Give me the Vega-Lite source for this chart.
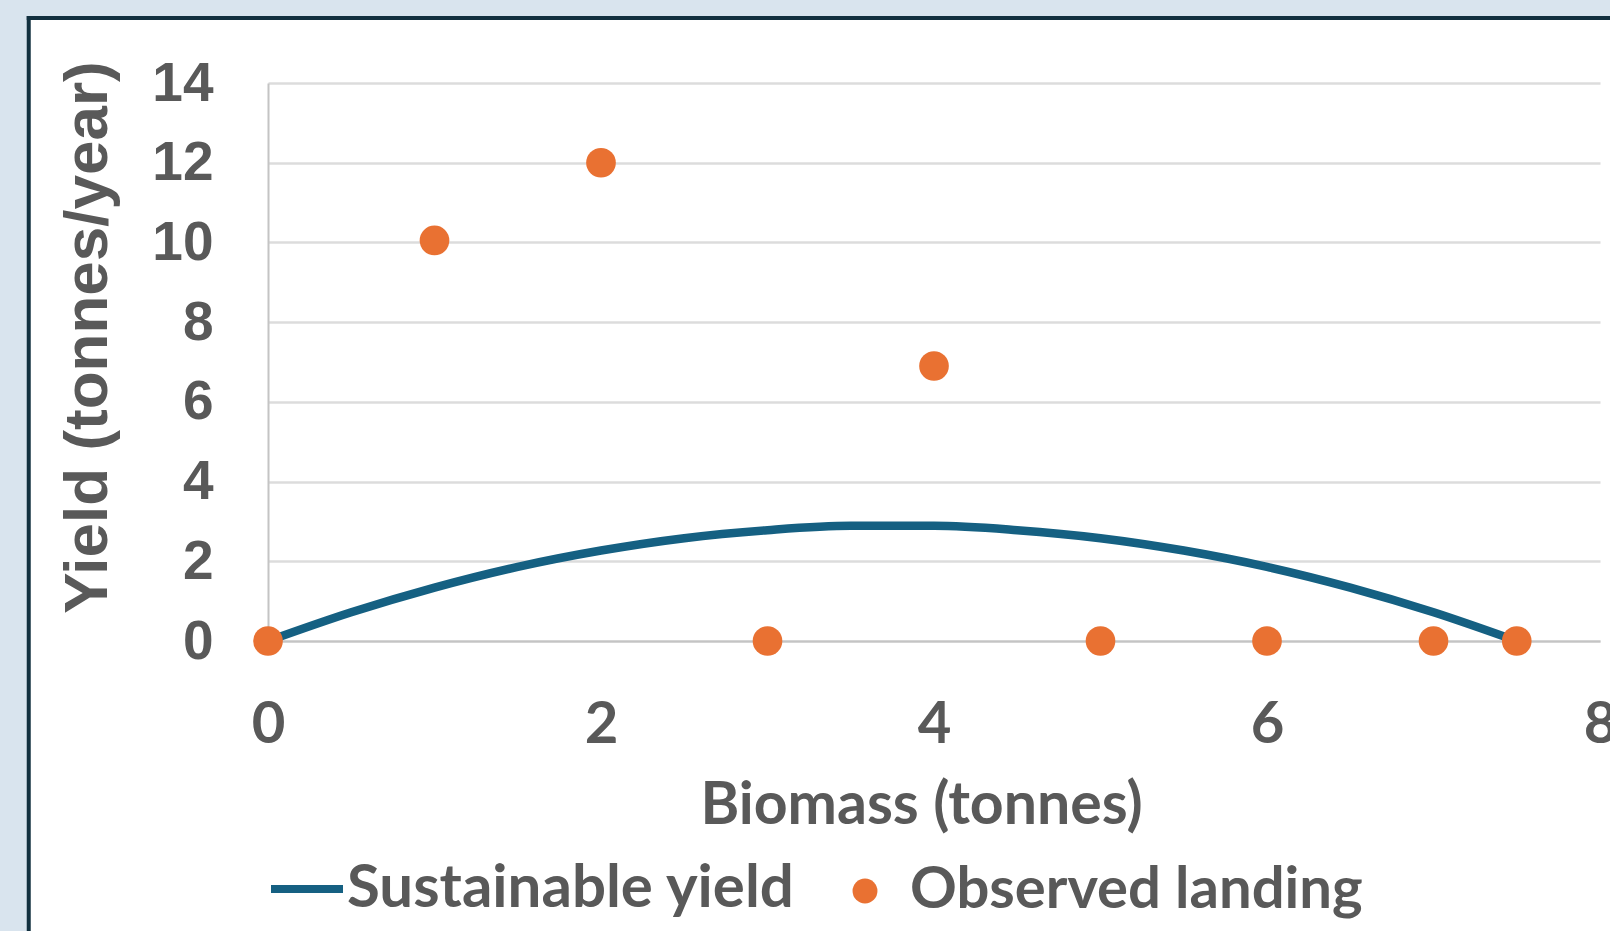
{
  "$schema": "https://vega.github.io/schema/vega-lite/v6.json",
  "width": 1332,
  "height": 558,
  "autosize": {"type": "none"},
  "padding": {"left": 268, "top": 83, "right": 10, "bottom": 290},
  "background": "#ffffff",
  "view": {"stroke": null},
  "datasets": {
    "yieldcurve": [
      {"biomass": 0, "yield": 0, "series": "Sustainable yield"},
      {"biomass": 0.5, "yield": 0.72, "series": "Sustainable yield"},
      {"biomass": 1, "yield": 1.34, "series": "Sustainable yield"},
      {"biomass": 1.5, "yield": 1.86, "series": "Sustainable yield"},
      {"biomass": 2, "yield": 2.27, "series": "Sustainable yield"},
      {"biomass": 2.5, "yield": 2.58, "series": "Sustainable yield"},
      {"biomass": 3, "yield": 2.78, "series": "Sustainable yield"},
      {"biomass": 3.5, "yield": 2.89, "series": "Sustainable yield"},
      {"biomass": 4, "yield": 2.89, "series": "Sustainable yield"},
      {"biomass": 4.5, "yield": 2.78, "series": "Sustainable yield"},
      {"biomass": 5, "yield": 2.58, "series": "Sustainable yield"},
      {"biomass": 5.5, "yield": 2.27, "series": "Sustainable yield"},
      {"biomass": 6, "yield": 1.86, "series": "Sustainable yield"},
      {"biomass": 6.5, "yield": 1.34, "series": "Sustainable yield"},
      {"biomass": 7, "yield": 0.72, "series": "Sustainable yield"},
      {"biomass": 7.5, "yield": 0, "series": "Sustainable yield"}
    ],
    "landing": [
      {"biomass": 0, "yield": 0, "series": "Observed landing"},
      {"biomass": 1, "yield": 10.05, "series": "Observed landing"},
      {"biomass": 2, "yield": 12, "series": "Observed landing"},
      {"biomass": 3, "yield": 0, "series": "Observed landing"},
      {"biomass": 4, "yield": 6.9, "series": "Observed landing"},
      {"biomass": 5, "yield": 0, "series": "Observed landing"},
      {"biomass": 6, "yield": 0, "series": "Observed landing"},
      {"biomass": 7, "yield": 0, "series": "Observed landing"},
      {"biomass": 7.5, "yield": 0, "series": "Observed landing"}
    ]
  },
  "config": {
    "axis": {
      "ticks": false,
      "tickSize": 0,
      "domainColor": "#c4c4c4",
      "domainWidth": 2,
      "gridColor": "#dcdcdc",
      "gridWidth": 2.5,
      "labelColor": "#595959",
      "titleColor": "#595959",
      "labelFontWeight": "bold",
      "titleFontWeight": "bold",
      "labelFlush": false,
      "labelOverlap": false
    },
    "legend": {
      "padding": 0,
      "labelFont": "Lato",
      "labelFontWeight": "bold",
      "labelFontSize": 60,
      "labelColor": "#595959",
      "labelLimit": 0
    }
  },
  "layer": [
    {
      "data": {"values": [{}]},
      "mark": {"type": "rect", "fill": "#d9e4ee", "stroke": null},
      "encoding": {
        "x": {"datum": -3, "type": "quantitative", "scale": {"domain": [0, 8], "nice": false}},
        "x2": {"datum": -1.437},
        "y": {"datum": 20, "type": "quantitative", "scale": {"domain": [0, 14], "nice": false}},
        "y2": {"datum": -10}
      }
    },
    {
      "data": {"values": [{}]},
      "mark": {"type": "rect", "fill": "#d9e4ee", "stroke": null},
      "encoding": {
        "x": {"datum": -3, "type": "quantitative"},
        "x2": {"datum": 10},
        "y": {"datum": 20, "type": "quantitative"},
        "y2": {"datum": 15.63}
      }
    },
    {
      "data": {"values": [{}]},
      "mark": {"type": "rule", "color": "#12303f", "strokeWidth": 4, "strokeCap": "square"},
      "encoding": {
        "x": {"datum": -1.437, "type": "quantitative"},
        "y": {"datum": 15.63, "type": "quantitative"},
        "y2": {"datum": -10}
      }
    },
    {
      "data": {"values": [{}]},
      "mark": {"type": "rule", "color": "#12303f", "strokeWidth": 4, "strokeCap": "square"},
      "encoding": {
        "x": {"datum": -1.437, "type": "quantitative"},
        "x2": {"datum": 10},
        "y": {"datum": 15.63, "type": "quantitative"}
      }
    },
    {
      "data": {"name": "yieldcurve"},
      "mark": {"type": "line", "strokeWidth": 8.5, "strokeCap": "round", "interpolate": "monotone"},
      "encoding": {
        "x": {
          "field": "biomass",
          "type": "quantitative",
          "scale": {"domain": [0, 8], "nice": false},
          "axis": {
            "title": "Biomass (tonnes)",
            "values": [0, 2, 4, 6, 8],
            "format": "d",
            "grid": false,
            "labelFont": "Lato",
            "labelFontSize": 58,
            "labelBaseline": "alphabetic",
            "labelPadding": 101,
            "titleFont": "Lato",
            "titleFontSize": 59,
            "titleBaseline": "alphabetic",
            "titleX": 653,
            "titleY": 182
          }
        },
        "y": {
          "field": "yield",
          "type": "quantitative",
          "scale": {"domain": [0, 14], "nice": false},
          "axis": {
            "title": "Yield (tonnes/year)",
            "values": [0, 2, 4, 6, 8, 10, 12, 14],
            "format": "d",
            "grid": true,
            "labelFont": "Liberation Sans",
            "labelFontSize": 55,
            "labelPadding": 55,
            "labelBaseline": "middle",
            "titleFont": "Liberation Sans",
            "titleFontSize": 62,
            "titleAngle": -90,
            "titleAlign": "center",
            "titleBaseline": "alphabetic",
            "titleX": -162,
            "titleY": 254
          }
        },
        "stroke": {
          "field": "series",
          "type": "nominal",
          "scale": {"domain": ["Sustainable yield"], "range": ["#156082"]},
          "legend": {
            "orient": "none",
            "title": null,
            "legendX": -1,
            "legendY": 766,
            "symbolType": "stroke",
            "symbolSize": 5184,
            "symbolStrokeWidth": 8,
            "labelOffset": 0
          }
        }
      }
    },
    {
      "data": {"name": "landing"},
      "mark": {"type": "point", "filled": true, "size": 880, "opacity": 1, "strokeWidth": 0},
      "encoding": {
        "x": {"field": "biomass", "type": "quantitative"},
        "y": {"field": "yield", "type": "quantitative"},
        "fill": {
          "field": "series",
          "type": "nominal",
          "scale": {"domain": ["Observed landing"], "range": ["#E97132"]},
          "legend": {
            "orient": "none",
            "title": null,
            "legendX": 568,
            "legendY": 779,
            "symbolType": "circle",
            "symbolSize": 620,
            "symbolStrokeWidth": 0,
            "symbolOpacity": 1,
            "labelOffset": 16,
            "labelFontSize": 58
          }
        }
      }
    }
  ],
  "resolve": {"legend": {"stroke": "independent", "fill": "independent"}}
}
